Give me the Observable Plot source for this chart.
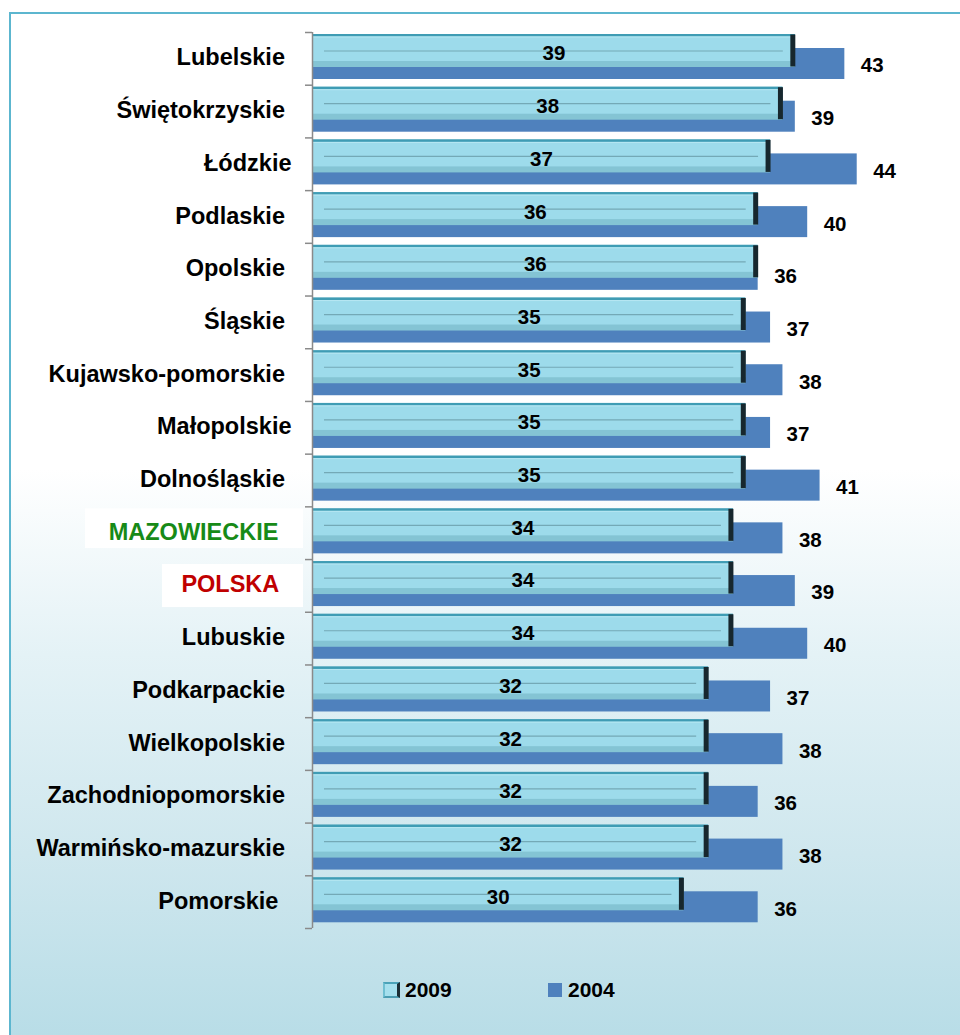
<!DOCTYPE html>
<html>
<head>
<meta charset="utf-8">
<script src="https://cdn.jsdelivr.net/npm/d3@7"></script>
<script src="https://cdn.jsdelivr.net/npm/@observablehq/plot@0.6"></script>
<style>
  html, body { margin: 0; padding: 0; background: #ffffff; width: 960px; height: 1035px; overflow: hidden; }
  #frame {
    position: absolute; left: 9px; top: 12px; width: 1000px; height: 1100px;
    border: 2px solid #5cb6cf;
    background: linear-gradient(to bottom, #ffffff 0px, #ffffff 455px, #e4f2f6 640px, #cfe7ee 840px, #b8dde7 1023px, #b5dbe6 1100px);
    font-family: Arial, "Liberation Sans", sans-serif;
  }
  #legend { position: relative; height: 20px; margin-top: 26px; font-weight: bold; font-size: 21px; color: #000; }
  #legend .sw9 { position: absolute; left: 372px; top: 2px; width: 12px; height: 12px;
    background: #a6e0ee; border-top: 2px solid #4aa3b9; border-left: 2px solid #6fbfd2; border-bottom: 2px solid #4c9db2; border-right: 3px solid #1b2e35; }
  #legend .sw4 { position: absolute; left: 537px; top: 3px; width: 14px; height: 14px; background: #4f81bd; }
  #legend .t { position: absolute; top: 0px; line-height: 20px; }
  #chart svg text.cat { white-space: pre; }
</style>
</head>
<body>
<div id="frame">
  <div id="chart"></div>
  <div id="legend">
    <div class="sw9"></div><div class="t" style="left:394px">2009</div>
    <div class="sw4"></div><div class="t" style="left:557px">2004</div>
  </div>
</div>
<script>
const categories = ["Lubelskie","Świętokrzyskie","Łódzkie","Podlaskie","Opolskie","Śląskie","Kujawsko-pomorskie","Małopolskie","Dolnośląskie","MAZOWIECKIE","POLSKA","Lubuskie","Podkarpackie","Wielkopolskie","Zachodniopomorskie","Warmińsko-mazurskie","Pomorskie"];
// labels as typed in the source chart (trailing spaces included)
const categoryLabels = ["Lubelskie ","Świętokrzyskie ","Łódzkie","Podlaskie ","Opolskie ","Śląskie ","Kujawsko-pomorskie ","Małopolskie","Dolnośląskie ","MAZOWIECKIE  ","POLSKA  ","Lubuskie ","Podkarpackie ","Wielkopolskie ","Zachodniopomorskie ","Warmińsko-mazurskie ","Pomorskie  "];
const values2009 = [39,38,37,36,36,35,35,35,35,34,34,34,32,32,32,32,30];
const values2004 = [43,39,44,40,36,37,38,37,41,38,39,40,37,38,36,38,36];
const labelColors = {"MAZOWIECKIE": "#178a17", "POLSKA": "#c00000"};

const data = categories.map((c, i) => ({cat: c, label: categoryLabels[i], v2009: values2009[i], v2004: values2004[i]}));

const H = 940, MT = 18, MB = 26;
const bw = (H - MT - MB) / categories.length;

const chart = Plot.plot({
  width: 949,
  height: H,
  marginLeft: 301,
  marginRight: 29,
  marginTop: MT,
  marginBottom: MB,
  style: {background: "transparent", fontFamily: 'Arial, "Liberation Sans", sans-serif', overflow: "visible"},
  x: {domain: [0, 50], axis: null},
  y: {domain: categories, padding: 0, round: false, axis: null},
  marks: [
    // 2004 bars
    Plot.barX(data, {x: "v2004", y: "cat", fill: "#4f81bd", insetTop: 16, insetBottom: bw - 47}),
    // 2009 bevel bars
    Plot.barX(data, {x: "v2009", y: "cat", fill: "#84c4d4", insetTop: 2, insetBottom: bw - 35}),
    Plot.barX(data, {x: "v2009", y: "cat", fill: "#3f9cb4", insetTop: 2, insetBottom: bw - 4.5}),
    Plot.barX(data, {x: "v2009", y: "cat", fill: "#9ddbeb", insetTop: 4.5, insetBottom: bw - 29}),
    Plot.barX(data, {x: "v2009", y: "cat", fill: "#b6e7f2", insetTop: 4.5, insetBottom: bw - 5.5}),
    Plot.ruleY(data, {y: "cat", x1: () => 0, x2: "v2009", insetLeft: 12, insetRight: 12, stroke: "#74a9b6", strokeWidth: 1.2, dy: 18.5 - bw / 2}),
    Plot.tickX(data, {x: "v2009", y: "cat", stroke: "#17272e", strokeWidth: 5, dx: -2.5, insetTop: 2.5, insetBottom: bw - 34.5}),
    // axis line and ticks
    Plot.ruleX([0], {stroke: "#8a8a8a", strokeWidth: 1.5}),
    Plot.ruleY(categories, {y: d => d, x1: () => 0, x2: () => 0, insetLeft: -7, stroke: "#8a8a8a", strokeWidth: 1.5, dy: -bw / 2}),
    Plot.ruleY(categories.slice(-1), {y: d => d, x1: () => 0, x2: () => 0, insetLeft: -7, stroke: "#8a8a8a", strokeWidth: 1.5, dy: bw / 2}),
    // value labels
    Plot.text(data, {x: d => d.v2009 / 2, y: "cat", text: d => String(d.v2009), fontSize: 20.5, fontWeight: "bold", fill: "#000", dy: -5}),
    Plot.text(data, {x: "v2004", y: "cat", text: d => String(d.v2004), fontSize: 20.5, fontWeight: "bold", fill: "#000", textAnchor: "start", dx: 16, dy: 7}),
    // category labels
    Plot.text(data, {x: () => 0, y: "cat", text: "label", className: "cat", textAnchor: "end", dx: -21, dy: -1, fontSize: 23.5, fontWeight: "bold", fill: d => labelColors[d.cat] || "#000"})
  ]
});

document.getElementById("chart").appendChild(chart);

const svg = d3.select(chart);
svg.selectAll("g.cat text, text.cat").attr("xml:space", "preserve").style("white-space", "pre");

// white label boxes behind highlighted categories
const ys = chart.scale("y");
[["MAZOWIECKIE", 74, 292, 2, 11], ["POLSKA", 151, 292, 5, 4.7]].forEach(([c, x0, x1, t, b]) => {
  const top = ys.apply(c);
  svg.insert("rect", "g")
    .attr("x", x0).attr("y", top + t)
    .attr("width", x1 - x0).attr("height", ys.bandwidth - t - b)
    .attr("fill", "#ffffff");
});
</script>
</body>
</html>
